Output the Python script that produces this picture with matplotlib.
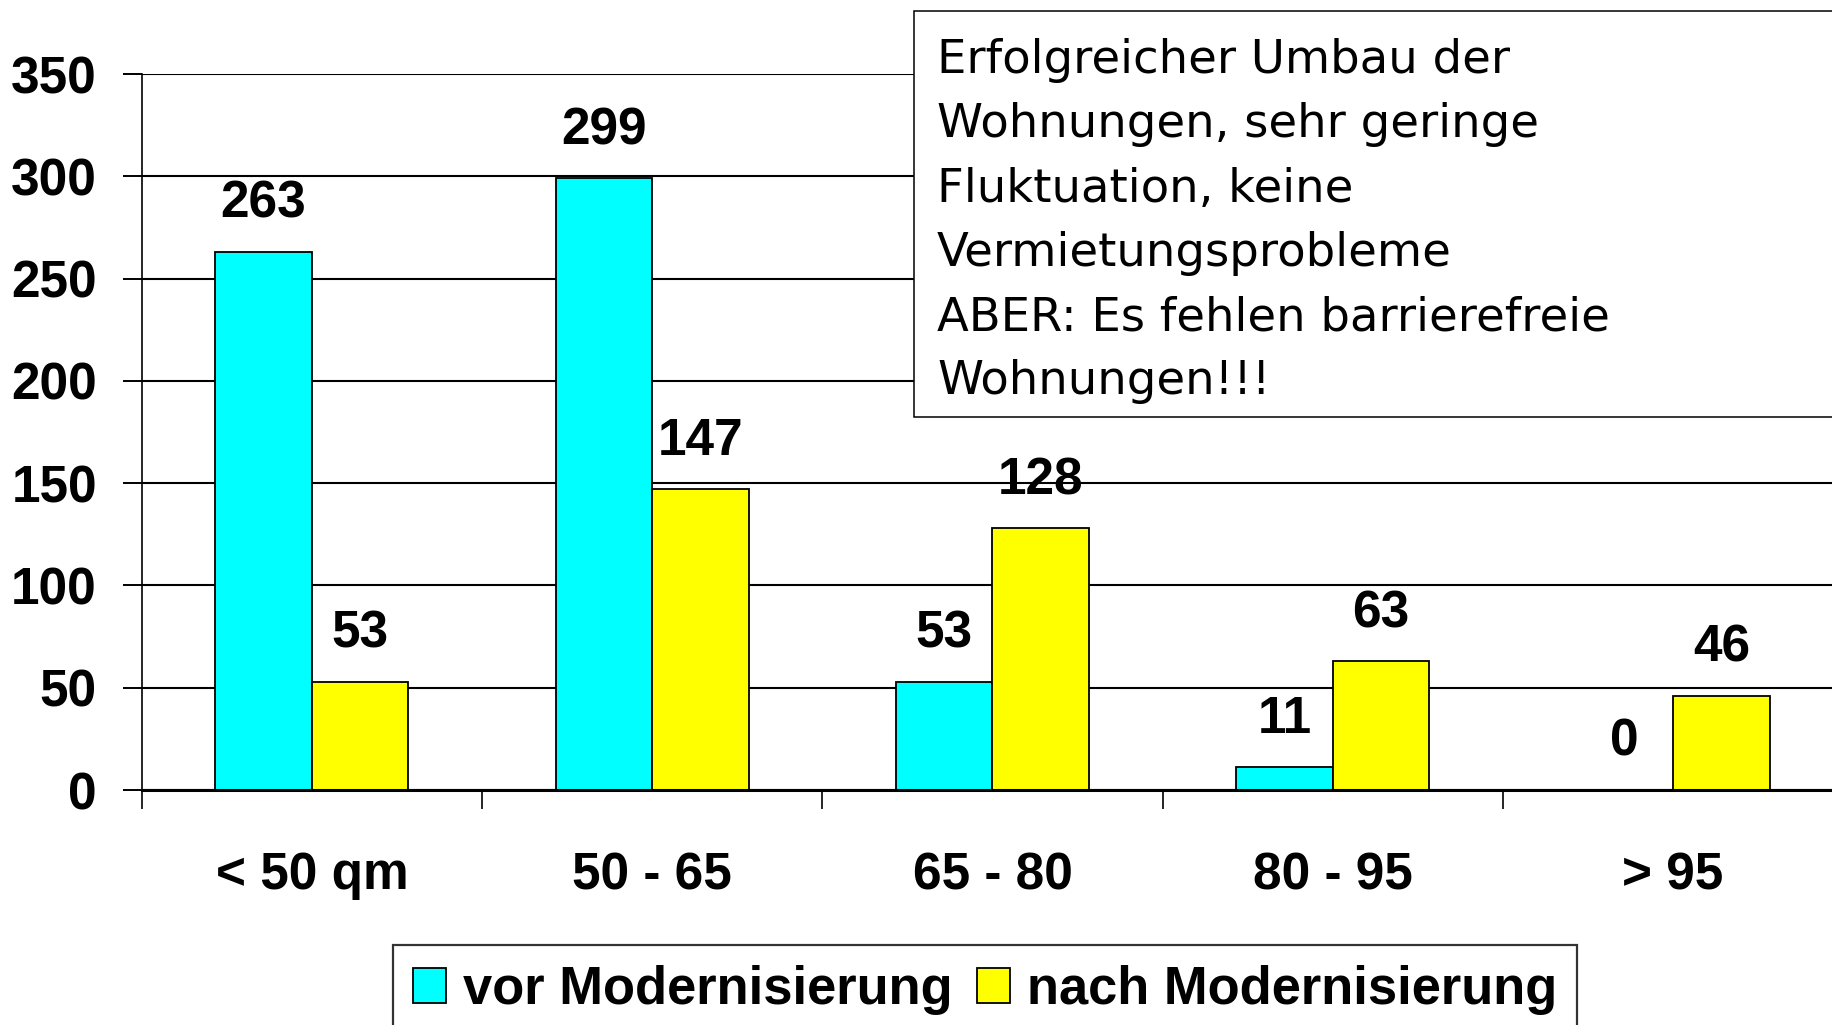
import matplotlib

matplotlib.use("Agg")

import matplotlib.pyplot as plt
import numpy as np
from matplotlib.patches import Rectangle

CATEGORIES = ["< 50 qm", "50 - 65", "65 - 80", "80 - 95", "> 95"]
VOR = [263, 299, 53, 11, 0]
NACH = [53, 147, 128, 63, 46]
SERIES = ["vor Modernisierung", "nach Modernisierung"]
YTICKS = [0, 50, 100, 150, 200, 250, 300, 350]
NOTE = [
    "Erfolgreicher Umbau der",
    "Wohnungen, sehr geringe",
    "Fluktuation, keine",
    "Vermietungsprobleme",
    "ABER: Es fehlen barrierefreie",
    "Wohnungen!!!",
]

W, H = 1833, 1025
plt.rcParams["font.family"] = "Liberation Sans"
plt.rcParams["font.weight"] = "bold"
FS = 37

fig = plt.figure(figsize=(W / 100, H / 100), dpi=100)
# Achse ragt rechts etwas über den Bildrand hinaus (wie im Original)
ax = fig.add_axes([141.7 / W, 1 - 790 / H, 1701.5 / W, (790 - 74) / H])

x = np.arange(len(CATEGORIES))
bw = 0.284
ax.bar(x - bw / 2, VOR, bw, color="#00FFFF", edgecolor="black", linewidth=1.3,
       label=SERIES[0], zorder=3)
ax.bar(x + bw / 2, NACH, bw, color="#FFFF00", edgecolor="black", linewidth=1.3,
       label=SERIES[1], zorder=3)

for xi, v in zip(x - bw / 2, VOR):
    ax.annotate(str(v), (xi, v), xytext=(0, 24.5), textcoords="offset points",
                ha="center", va="baseline", fontsize=FS, fontweight="bold")
for xi, v in zip(x + bw / 2, NACH):
    ax.annotate(str(v), (xi, v), xytext=(0, 24.5), textcoords="offset points",
                ha="center", va="baseline", fontsize=FS, fontweight="bold")

ax.set_xlim(-0.5, len(CATEGORIES) - 0.5)
ax.set_ylim(0, 350)
ax.set_yticks(YTICKS)
ax.set_yticklabels([str(t) for t in YTICKS], fontsize=FS, fontweight="bold")
ax.set_xticks(x)
ax.set_xticklabels(CATEGORIES, fontsize=FS, fontweight="bold")
ax.set_xticks(np.arange(len(CATEGORIES) + 1) - 0.5, minor=True)
ax.tick_params(axis="x", which="major", length=0, pad=44)
ax.tick_params(axis="x", which="minor", length=13.5, width=1.2, direction="out")
ax.tick_params(axis="y", length=13.5, width=1.4, direction="out", pad=18.7)

ax.yaxis.grid(True, color="black", linewidth=1.5, zorder=0)
ax.set_axisbelow(True)
for s in ["top", "right"]:
    ax.spines[s].set_visible(False)
ax.spines["left"].set_linewidth(1.2)
ax.spines["bottom"].set_linewidth(2.2)
ax.spines["bottom"].set_zorder(4)

leg = fig.legend(loc="upper left", bbox_to_anchor=(393 / W, 1 - 945 / H),
                 ncol=2, fontsize=37.8, frameon=True, fancybox=False,
                 borderaxespad=0, handlelength=0.63, handleheight=0.63,
                 handletextpad=0.33, columnspacing=0.45, borderpad=0.38)
leg.get_frame().set_edgecolor("black")
leg.get_frame().set_linewidth(1.6)
for t in leg.get_texts():
    t.set_fontweight("bold")

# Textkasten oben rechts
box = Rectangle((914 / W, 1 - 417 / H), (W - 914 + 20) / W, (417 - 10.7) / H,
                transform=fig.transFigure, facecolor="white", edgecolor="black",
                linewidth=1.1, zorder=5, clip_on=False)
fig.add_artist(box)
for i, line in enumerate(NOTE):
    fig.text(937 / W, 1 - (73 + i * 64.3) / H, line, fontsize=33.5,
             fontweight="normal", family="DejaVu Sans", va="baseline",
             ha="left", zorder=6)

fig.savefig("out.png", dpi=100)
